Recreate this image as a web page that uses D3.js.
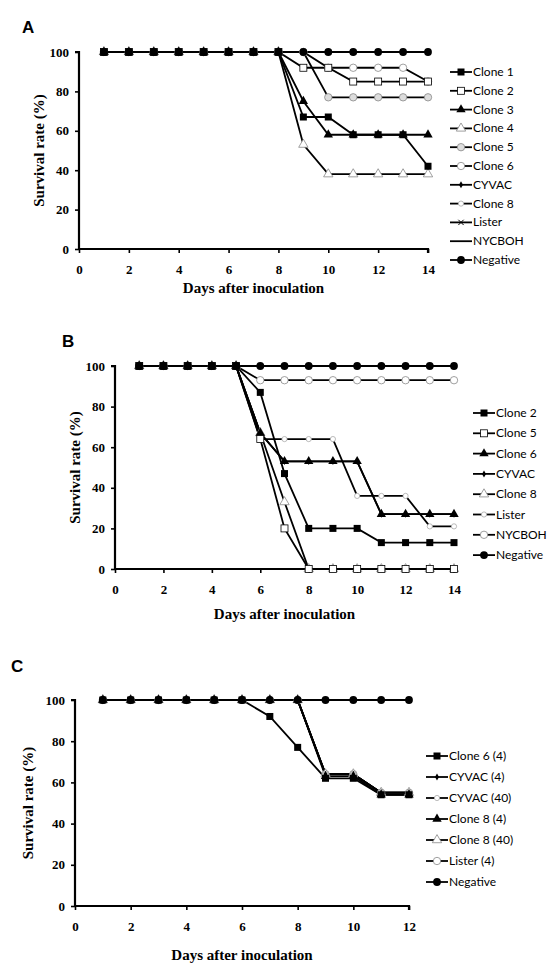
<!DOCTYPE html>
<html><head><meta charset="utf-8">
<script src="https://cdn.jsdelivr.net/npm/d3@7"></script>
<style>body{margin:0;background:#fff}</style></head><body>
<svg id="c" width="555" height="978"></svg>
<script>
// ---------- DATA ----------
const yTicks = [0, 20, 40, 60, 80, 100];
const xTicksA = [0, 2, 4, 6, 8, 10, 12, 14];
const xTicksB = [0, 2, 4, 6, 8, 10, 12, 14];
const xTicksC = [0, 2, 4, 6, 8, 10, 12];

// Panel A (days 1..14)
const daysA = [1,2,3,4,5,6,7,8,9,10,11,12,13,14];
const namesA = ["Clone 1","Clone 2","Clone 3","Clone 4","Clone 5","Clone 6","CYVAC","Clone 8","Lister","NYCBOH","Negative"];
const markersA = ["sqFill","sqOpen","triFill","triOpen","circGrey","circOpen","diamond","smallOpen","star","none","circFill"];
const clone1A  = [100,100,100,100,100,100,100,100,67,67,58,58,58,42];
const clone2A  = [100,100,100,100,100,100,100,100,92,92,85,85,85,85];
const clone3A  = [100,100,100,100,100,100,100,100,75,58,58,58,58,58];
const clone4A  = [100,100,100,100,100,100,100,100,53,38,38,38,38,38];
const clone5A  = [100,100,100,100,100,100,100,100,100,77,77,77,77,77];
const clone6A  = [100,100,100,100,100,100,100,100,100,92,92,92,92,85];
const cyvacA   = [100,100,100,100,100,100,100,100,100,100,100,100,100,100];
const clone8A  = [100,100,100,100,100,100,100,100,100,100,100,100,100,100];
const listerA  = [100,100,100,100,100,100,100,100,100,100,100,100,100,100];
const nycbohA  = [100,100,100,100,100,100,100,100,100,100,100,100,100,100];
const negA     = [100,100,100,100,100,100,100,100,100,100,100,100,100,100];

// Panel B (days 1..14)
const daysB = [1,2,3,4,5,6,7,8,9,10,11,12,13,14];
const namesB = ["Clone 2","Clone 5","Clone 6","CYVAC","Clone 8","Lister","NYCBOH","Negative"];
const markersB = ["sqFill","sqOpen","triFill","diamond","triOpen","smallOpen","circOpen","circFill"];
const clone2B  = [100,100,100,100,100,87,47,20,20,20,13,13,13,13];
const clone5B  = [100,100,100,100,100,64,20,0,0,0,0,0,0,0];
const clone6B  = [100,100,100,100,100,67,53,53,53,53,27,27,27,27];
const cyvacB   = [100,100,100,100,100,67,53,53,53,53,27,27,27,27];
const clone8B  = [100,100,100,100,100,67,33,0,0,0,0,0,0,0];
const listerB  = [100,100,100,100,100,64,64,64,64,36,36,36,21,21];
const nycbohB  = [100,100,100,100,100,93,93,93,93,93,93,93,93,93];
const negB     = [100,100,100,100,100,100,100,100,100,100,100,100,100,100];

// Panel C (days 1..12)
const daysC = [1,2,3,4,5,6,7,8,9,10,11,12];
const namesC = ["Clone 6 (4)","CYVAC (4)","CYVAC (40)","Clone 8 (4)","Clone 8 (40)","Lister (4)","Negative"];
const markersC = ["sqFill","diamond","smallOpen","triFill","triOpen","circOpen","circFill"];
const clone6C  = [100,100,100,100,100,100,92,77,62,62,54,54];
const cyvac4C  = [100,100,100,100,100,100,100,100,64,64,55,55];
const cyvac40C = [100,100,100,100,100,100,100,100,64,64,55,55];
const clone84C = [100,100,100,100,100,100,100,100,63,63,54,54];
const clone840C= [100,100,100,100,100,100,100,100,64,64,55,55];
const listerC  = [100,100,100,100,100,100,100,100,64,64,55,55];
const negC     = [100,100,100,100,100,100,100,100,100,100,100,100];

// ---------- DRAW ----------
const svg = d3.select("#c");
const serif = "'Liberation Serif','Times New Roman',serif";
const sans = "Lato,'Open Sans',sans-serif";

function marker(g, type, cx, cy) {
  const s = 7;
  switch (type) {
    case "sqFill": g.append("rect").attr("x", cx-s/2).attr("y", cy-s/2).attr("width", s).attr("height", s).attr("fill","#000"); break;
    case "sqOpen": g.append("rect").attr("x", cx-s/2).attr("y", cy-s/2).attr("width", s).attr("height", s).attr("fill","#fff").attr("stroke","#000").attr("stroke-width",0.8); break;
    case "triFill": g.append("path").attr("d", d3.symbol(d3.symbolTriangle, 38)()).attr("transform",`translate(${cx},${cy})`).attr("fill","#000"); break;
    case "triOpen": g.append("path").attr("d", d3.symbol(d3.symbolTriangle, 38)()).attr("transform",`translate(${cx},${cy})`).attr("fill","#fff").attr("stroke","#888").attr("stroke-width",0.8); break;
    case "circGrey": g.append("circle").attr("cx",cx).attr("cy",cy).attr("r",3.7).attr("fill","#ddd").attr("stroke","#888").attr("stroke-width",0.8); break;
    case "circOpen": g.append("circle").attr("cx",cx).attr("cy",cy).attr("r",3.7).attr("fill","#fff").attr("stroke","#888").attr("stroke-width",0.8); break;
    case "smallOpen": g.append("circle").attr("cx",cx).attr("cy",cy).attr("r",2.6).attr("fill","#fff").attr("stroke","#aaa").attr("stroke-width",0.8); break;
    case "diamond": g.append("path").attr("d", d3.symbol(d3.symbolDiamond, 14)()).attr("transform",`translate(${cx},${cy})`).attr("fill","#000"); break;
    case "star": g.append("path").attr("d", d3.symbol(d3.symbolTimes, 20)()).attr("transform",`translate(${cx},${cy})`).attr("fill","none").attr("stroke","#000").attr("stroke-width",1); break;
    case "circFill": g.append("circle").attr("cx",cx).attr("cy",cy).attr("r",3.9).attr("fill","#000"); break;
    default: break;
  }
}

function panel(cfg) {
  const g = svg.append("g");
  const x = d3.scaleLinear().domain([0, cfg.xMax]).range([cfg.x0, cfg.x1]);
  const y = d3.scaleLinear().domain([0, 100]).range([cfg.y0, cfg.y1]);

  g.append("text").attr("x", cfg.lab[0]).attr("y", cfg.lab[1]).text(cfg.label)
    .attr("font-family","'Liberation Sans',Arial,sans-serif").attr("font-weight","bold").attr("font-size",17);

  const yAxis = d3.axisLeft(y).tickValues(yTicks).tickSize(4).tickPadding(6);
  const ga = g.append("g").attr("transform",`translate(${cfg.x0},0)`).call(yAxis);
  const xAxis = d3.axisBottom(x).tickValues(cfg.xTicks).tickSize(4).tickPadding(12);
  const gx = g.append("g").attr("transform",`translate(0,${cfg.y0})`).call(xAxis);
  [ga, gx].forEach(a => {
    a.select(".domain").attr("stroke","#000").attr("stroke-width",2.2);
    a.selectAll(".tick line").attr("stroke","#000").attr("stroke-width",1.6);
    a.selectAll("text").attr("font-family",serif).attr("font-weight","bold").attr("font-size",13).attr("fill","#000");
  });
  ga.select(".domain").attr("d", `M-4,${cfg.y1}H0V${cfg.y0}`);
  gx.select(".domain").attr("d", `M${cfg.x0},0H${cfg.x1}V4`);

  g.append("text").attr("x",(cfg.x0+cfg.x1)/2).attr("y",cfg.xTitleY).attr("text-anchor","middle")
    .attr("font-family",serif).attr("font-weight","bold").attr("font-size",15).text("Days after inoculation");
  g.append("text").attr("transform",`translate(${cfg.yTitleX},${(cfg.y0+cfg.y1)/2}) rotate(-90)`).attr("text-anchor","middle")
    .attr("font-family",serif).attr("font-weight","bold").attr("font-size",15).text("Survival rate (%)");

  const line = d3.line().x((d,i)=>x(cfg.days[i])).y(d=>y(d));
  const n = cfg.series.length;
  // draw order: lighter series first, then Negative, then the first series on top
  const order = d3.range(1, n-1).reverse().concat([n-1, 0]);
  order.forEach(k => {
    g.append("path").datum(cfg.series[k]).attr("d", line).attr("fill","none").attr("stroke","#000").attr("stroke-width",1.8);
  });
  order.forEach(k => {
    cfg.series[k].forEach((v,i) => marker(g, cfg.markers[k], x(cfg.days[i]), y(v)));
  });

  cfg.names.forEach((nm,k) => {
    const ly = cfg.leg[1] + k*cfg.legStep;
    g.append("line").attr("x1",cfg.leg[0]).attr("x2",cfg.leg[0]+22).attr("y1",ly).attr("y2",ly).attr("stroke","#000").attr("stroke-width",1.8);
    marker(g, cfg.markers[k], cfg.leg[0]+11, ly);
    g.append("text").attr("x",cfg.leg[0]+23).attr("y",ly+4).text(nm)
      .attr("font-family",sans).attr("font-size",12).attr("fill","#000");
  });
}

panel({label:"A", lab:[22,33], x0:79, x1:428, y0:249, y1:52, xMax:14, xTicks:xTicksA,
  xTitleY:293, yTitleX:44, days:daysA, names:namesA, markers:markersA,
  series:[clone1A,clone2A,clone3A,clone4A,clone5A,clone6A,cyvacA,clone8A,listerA,nycbohA,negA],
  leg:[450,72], legStep:18.8});

panel({label:"B", lab:[62,347], x0:115, x1:454, y0:569, y1:366, xMax:14, xTicks:xTicksB,
  xTitleY:619, yTitleX:80, days:daysB, names:namesB, markers:markersB,
  series:[clone2B,clone5B,clone6B,cyvacB,clone8B,listerB,nycbohB,negB],
  leg:[473,413], legStep:20.3});

panel({label:"C", lab:[11,672], x0:75, x1:409, y0:906, y1:700, xMax:12, xTicks:xTicksC,
  xTitleY:960, yTitleX:33, days:daysC, names:namesC, markers:markersC,
  series:[clone6C,cyvac4C,cyvac40C,clone84C,clone840C,listerC,negC],
  leg:[426,756], legStep:21});
</script>
</body></html>
